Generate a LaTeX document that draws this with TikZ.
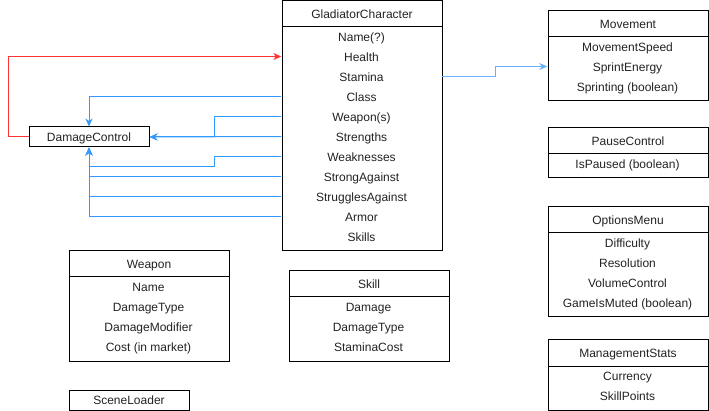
\documentclass[tikz,border=0pt]{standalone}
\usepackage{fontspec}
\setmainfont{Liberation Sans}
\usetikzlibrary{arrows.meta}
\definecolor{redline}{HTML}{FF3333}
\definecolor{blueline}{HTML}{3399FF}
\definecolor{lightblue}{HTML}{66B2FF}
\definecolor{txt}{HTML}{222222}
\newcommand\dgfont{\fontsize{12}{14}\selectfont}
\tikzset{
  hdr/.style={draw=black, line width=1pt, anchor=north west, minimum width=160, minimum height=26,
    inner sep=0pt, font=\dgfont, text=txt, text height=10.5pt, text depth=1pt},
  bodybox/.style={draw=black, line width=1pt, anchor=north west, minimum width=160, inner sep=0pt},
  row/.style={minimum width=160, minimum height=20, inner sep=0pt, font=\dgfont, text=txt,
    text height=10.5pt, text depth=1pt},
  single/.style={draw=black, line width=1pt, anchor=north west, minimum width=120, minimum height=20,
    inner sep=0pt, font=\dgfont, text=txt, text height=10.5pt, text depth=1pt},
  tip/.style={-{Stealth[length=8pt,width=7pt,inset=2.5pt]}},
  redarrow/.style={tip, draw=redline, line width=1pt},
  bluearrow/.style={tip, draw=blueline, line width=1pt},
  lbluearrow/.style={tip, draw=lightblue, line width=1pt},
}
\begin{document}
\begin{tikzpicture}[x=1pt,y=-1pt]
\useasboundingbox (0,0) rectangle (709,411);
\begin{scope}[shift={(0.5,0.5)}]
% GladiatorCharacter
\node[hdr] (gch) at (281,0) {GladiatorCharacter};
\node[bodybox, minimum height=224] (gcb) at (281,26) {};
\node[row] (gc1) at (361,36) {Name(?)};
\node[row] (gc2) at (361,56) {Health};
\node[row] (gc3) at (361,76) {Stamina};
\node[row] (gc4) at (361,96) {Class};
\node[row] (gc5) at (361,116) {Weapon(s)};
\node[row] (gc6) at (361,136) {Strengths};
\node[row] (gc7) at (361,156) {Weaknesses};
\node[row] (gc8) at (361,176) {StrongAgainst};
\node[row] (gc9) at (361,196) {StrugglesAgainst};
\node[row] (gc10) at (361,216) {Armor};
\node[row] (gc11) at (361,236) {Skills};

% Movement
\node[hdr] (mvh) at (547,10) {Movement};
\node[bodybox, minimum height=64] (mvb) at (547,36) {};
\node[row] (mv1) at (627,46) {MovementSpeed};
\node[row] (mv2) at (627,66) {SprintEnergy};
\node[row] (mv3) at (627,86) {Sprinting (boolean)};

% PauseControl
\node[hdr] (pch) at (547,127) {PauseControl};
\node[bodybox, minimum height=24] (pcb) at (547,153) {};
\node[row] (pc1) at (627,163) {IsPaused (boolean)};

% OptionsMenu
\node[hdr] (omh) at (547,206) {OptionsMenu};
\node[bodybox, minimum height=84] (omb) at (547,232) {};
\node[row] (om1) at (627,242) {Difficulty};
\node[row] (om2) at (627,262) {Resolution};
\node[row] (om3) at (627,282) {VolumeControl};
\node[row] (om4) at (627,302) {GameIsMuted (boolean)};

% ManagementStats
\node[hdr] (msh) at (547,339) {ManagementStats};
\node[bodybox, minimum height=44] (msb) at (547,365) {};
\node[row] (ms1) at (627,375) {Currency};
\node[row] (ms2) at (627,395) {SkillPoints};

% Weapon
\node[hdr] (wph) at (68,250) {Weapon};
\node[bodybox, minimum height=84] (wpb) at (68,276) {};
\node[row] (wp1) at (148,286) {Name};
\node[row] (wp2) at (148,306) {DamageType};
\node[row] (wp3) at (148,326) {DamageModifier};
\node[row] (wp4) at (148,346) {Cost (in market)};

% Skill
\node[hdr] (skh) at (288,270) {Skill};
\node[bodybox, minimum height=64] (skb) at (288,296) {};
\node[row] (sk1) at (368,306) {Damage};
\node[row] (sk2) at (368,326) {DamageType};
\node[row] (sk3) at (368,346) {StaminaCost};

% single boxes
\node[single] (dc) at (28,126) {DamageControl};
\node[single] (sl) at (68,389) {SceneLoader};

% connectors
\draw[redarrow] (dc.west) -- ++(-20,0) |- (gc2.west);
\draw[bluearrow] (gc4.west) -| (dc.north);
\draw[bluearrow] (gc5.west) -- ++(-67,0) |- (dc.east);
\draw[bluearrow] (gc6.west) -- (dc.east);
\draw[bluearrow] (gc7.west) -- ++(-67,0) -- ++(0,10) -| (dc.south);
\draw[bluearrow] (gc8.west) -| (dc.south);
\draw[bluearrow] (gc9.west) -| (dc.south);
\draw[bluearrow] (gc10.west) -| (dc.south);
\draw[lbluearrow] (gc3.east) -- ++(54,0) |- (mv2.west);
\end{scope}
\end{tikzpicture}
\end{document}
